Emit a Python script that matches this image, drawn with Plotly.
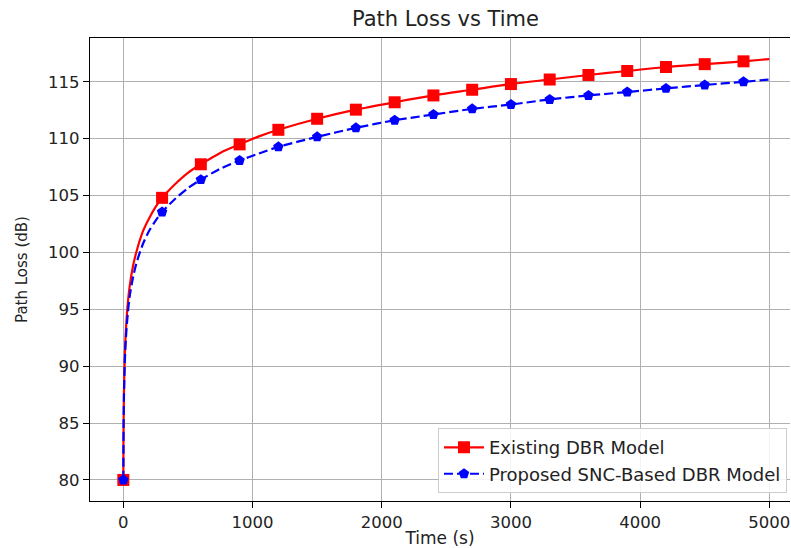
import plotly.graph_objects as go

# ---- data ----
time_s = [0, 1, 2, 5, 10, 20, 35, 50, 75, 100, 150, 200, 250, 300, 400, 500, 600, 750, 900,
          1050, 1200, 1500, 1800, 2100, 2400, 2700, 3000, 3300, 3600, 3900, 4200, 4500, 4800, 5000]
existing_dbr = [80.0, 83.0, 84.8, 87.8, 90.4, 93.2, 95.6, 97.1, 98.8, 100.0, 101.8, 103.0, 104.0,
                104.8, 106.0, 107.0, 107.75, 108.75, 109.5, 110.2, 110.78, 111.75, 112.55, 113.2,
                113.8, 114.3, 114.8, 115.2, 115.6, 115.95, 116.3, 116.55, 116.8, 117.0]
proposed_snc = [80.0, 82.9, 84.5, 87.4, 89.9, 92.5, 94.7, 96.2, 97.8, 99.0, 100.7, 101.9, 102.8,
                103.55, 104.7, 105.65, 106.4, 107.35, 108.08, 108.7, 109.28, 110.16, 110.95,
                111.62, 112.12, 112.62, 113.0, 113.45, 113.8, 114.1, 114.42, 114.72, 115.0, 115.2]
marker_times = [0, 300, 600, 900, 1200, 1500, 1800, 2100, 2400, 2700, 3000, 3300,
                3600, 3900, 4200, 4500, 4800]
x_ticks = [0, 1000, 2000, 3000, 4000, 5000]
y_ticks = [80, 85, 90, 95, 100, 105, 110, 115]

series = [
    ("Existing DBR Model", existing_dbr, "#ff0000", "solid", "square", 12),
    ("Proposed SNC-Based DBR Model", proposed_snc, "#0000ff", "9px,4px", "pentagon", 11),
]

fig = go.Figure()
for name, vals, color, dash, sym, msize in series:
    fig.add_trace(go.Scatter(x=time_s, y=vals, mode="lines", showlegend=False,
                             line=dict(color=color, width=2.2, dash=dash,
                                       shape="spline", smoothing=0.8),
                             hoverinfo="skip"))
    mx = [t for t in time_s if t in marker_times]
    my = [v for t, v in zip(time_s, vals) if t in marker_times]
    fig.add_trace(go.Scatter(x=mx, y=my, mode="markers", showlegend=False,
                             marker=dict(symbol=sym, size=msize, color=color,
                                         line=dict(width=0))))
    fig.add_trace(go.Scatter(x=[None], y=[None], mode="lines+markers", name=name,
                             line=dict(color=color, width=2.2, dash=dash),
                             marker=dict(symbol=sym, size=msize, color=color,
                                         line=dict(width=0))))

font_family = "DejaVu Sans"
fig.update_layout(
    width=791, height=548,
    margin=dict(l=90, r=1, t=38, b=47, autoexpand=False),
    paper_bgcolor="white", plot_bgcolor="white",
    font=dict(family=font_family, color="#222222", size=16),
    title=dict(text="Path Loss vs Time", x=0.5078, xref="paper", xanchor="center",
               y=1 - 19 / 548, yref="container", yanchor="middle",
               font=dict(size=21, color="#222222")),
    legend=dict(x=0.9957, y=0.017, xanchor="right", yanchor="bottom",
                bgcolor="rgba(255,255,255,0.85)", bordercolor="#cccccc", borderwidth=1,
                font=dict(size=18, color="#222222"), tracegroupgap=0, itemwidth=40),
    showlegend=True,
)
fig.update_xaxes(
    range=[-258, 5160], tickvals=x_ticks, ticktext=[str(v) for v in x_ticks],
    showgrid=True, gridcolor="#b0b0b0", gridwidth=1, zeroline=False,
    showline=True, linecolor="black", linewidth=1.2, mirror=True,
    ticks="outside", ticklen=6, tickwidth=1.2, tickcolor="black",
    tickfont=dict(size=16.5), automargin=False,
    title=dict(text="Time (s)", font=dict(size=17), standoff=7),
)
fig.update_yaxes(
    range=[78.15, 118.85], tickvals=y_ticks, ticktext=[str(v) for v in y_ticks],
    showgrid=True, gridcolor="#b0b0b0", gridwidth=1, zeroline=False,
    showline=True, linecolor="black", linewidth=1.2, mirror=False,
    ticks="outside", ticklen=6, tickwidth=1.2, tickcolor="black",
    tickfont=dict(size=16.5), automargin=False,
    title=dict(text="Path Loss (dB)", font=dict(size=15), standoff=16),
)

fig.write_html("out.html")
